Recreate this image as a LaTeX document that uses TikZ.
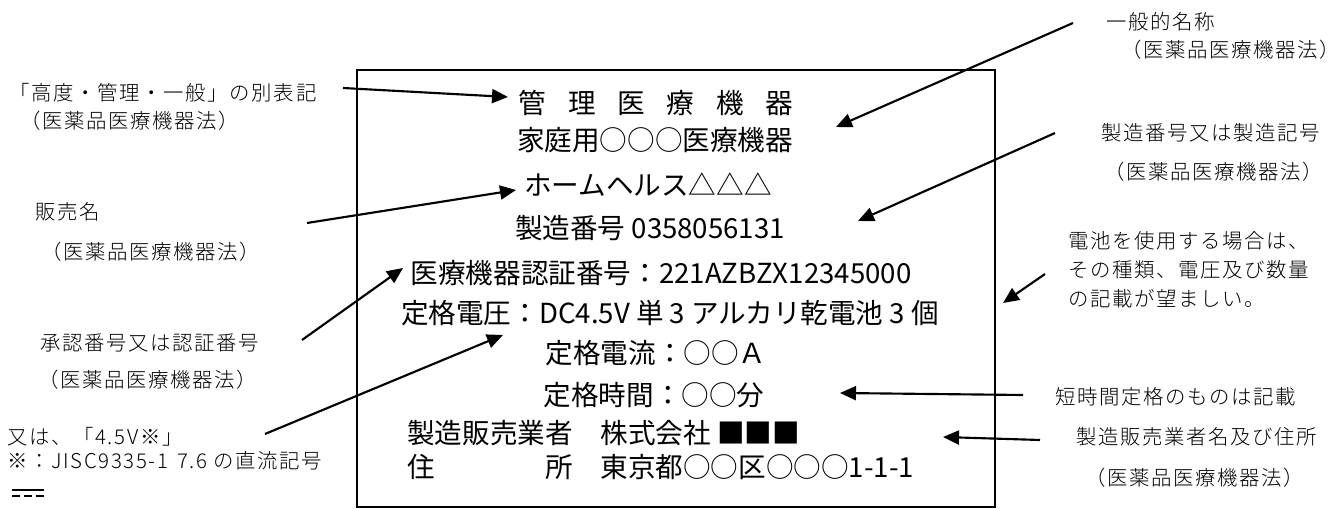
\documentclass[tikz,border=0pt]{standalone}
\usepackage{fontspec}
\setmainfont{Noto Sans CJK JP}
\newfontfamily\lblfont{Noto Sans CJK JP Light}[LetterSpace=8]
\usetikzlibrary{arrows.meta}
\newcommand\kgap{\hspace{0.79em}}
\begin{document}
\begin{tikzpicture}[x=0.75pt,y=-0.75pt,
  boxtext/.style={font={\fontsize{20.7pt}{24pt}\selectfont}, inner sep=0pt},
  lbl/.style={font={\lblfont\fontsize{15.3pt}{18pt}\selectfont}, inner sep=0pt},
  arr/.style={line width=1.6pt, -{Triangle[length=12pt,width=10.5pt]}},
  frame/.style={draw, line width=1.4pt, inner sep=0pt, outer sep=0pt,
    minimum width=478.5pt, minimum height=327.75pt}]
\useasboundingbox (0,0) rectangle (1343,509);

% label frame
\node[frame] (frame) at (676,288.5) {};

% texts inside the frame
\node[boxtext] (t1) at (656,103) {管\kgap 理\kgap 医\kgap 療\kgap 機\kgap 器};
\node[boxtext] (t2) at (655,140) {家庭用○○○医療機器};
\node[boxtext] (t3) at (648,185) {ホームヘルス△△△};
\node[boxtext] (t4) at (650,228) {製造番号 0358056131};
\node[boxtext] (t5) at (661,273) {医療機器認証番号：221AZBZX12345000};
\node[boxtext] (t6) at (670,313) {定格電圧：DC4.5V 単 3 アルカリ乾電池 3 個};
\node[boxtext] (t7) at (656,353) {定格電流：○○Ａ};
\node[boxtext] (t8) at (654,395) {定格時間：○○分};
\node[boxtext, anchor=west] (t9) at (407,433) {製造販売業者　株式会社 ■■■};
\node[boxtext, anchor=west] (t10) at (407,467) {\makebox[6em][l]{住\hfill 所}　東京都○○区○○○1-1-1};

% left labels
\node[lbl] (l1) at (163,93) {「高度・管理・一般」の別表記};
\node[lbl] (l2) at (130,121) {（医薬品医療機器法）};
\node[lbl] (l3) at (68,212) {販売名};
\node[lbl] (l4) at (151,252) {（医薬品医療機器法）};
\node[lbl] (l5) at (150,343) {承認番号又は認証番号};
\node[lbl] (l6) at (148,380) {（医薬品医療機器法）};
\node[lbl, anchor=west] (l7) at (7,437) {又は、「4.5V※」};
\node[lbl, anchor=west] (l8) at (7,461) {※：JISC9335-1\hspace{0.45em}7.6 の直流記号};

% DC symbol
\coordinate (dc1) at (12,490);
\coordinate (dc2) at (44,490);
\coordinate (dc3) at (12,496);
\coordinate (dc4) at (44,496);
\draw[line width=1pt] (dc1) -- (dc2);
\draw[line width=1pt, dash pattern=on 6pt off 3pt] (dc3) -- (dc4);

% right labels
\node[lbl] (r1) at (1161,22) {一般的名称};
\node[lbl] (r2) at (1231,50) {（医薬品医療機器法）};
\node[lbl] (r3) at (1211,133) {製造番号又は製造記号};
\node[lbl] (r4) at (1214,172) {（医薬品医療機器法）};
\node[lbl, anchor=west] (r5) at (1068,241) {電池を使用する場合は、};
\node[lbl, anchor=west] (r6) at (1068,270) {その種類、電圧及び数量};
\node[lbl, anchor=west] (r7) at (1068,299) {の記載が望ましい。};
\node[lbl] (r8) at (1176,397) {短時間定格のものは記載};
\node[lbl] (r9) at (1197,437) {製造販売業者名及び住所};
\node[lbl] (r10) at (1195,478) {（医薬品医療機器法）};

% arrow end points
\coordinate (a1s) at (343,88);   \coordinate (a1e) at (508,97);
\coordinate (a2s) at (307,223);  \coordinate (a2e) at (516,190);
\coordinate (a3s) at (302,340);  \coordinate (a3e) at (403,268);
\coordinate (a4s) at (265,434);  \coordinate (a4e) at (503,335);
\coordinate (a5s) at (1073,23);  \coordinate (a5e) at (836,127);
\coordinate (a6s) at (1055,133); \coordinate (a6e) at (858,221);
\coordinate (a7s) at (1045,274); \coordinate (a7e) at (1003,303);
\coordinate (a8s) at (1023,395); \coordinate (a8e) at (840,393);
\coordinate (a9s) at (1040,440); \coordinate (a9e) at (943,437);

\draw[arr] (a1s) -- (a1e);
\draw[arr] (a2s) -- (a2e);
\draw[arr] (a3s) -- (a3e);
\draw[arr] (a4s) -- (a4e);
\draw[arr] (a5s) -- (a5e);
\draw[arr] (a6s) -- (a6e);
\draw[arr] (a7s) -- (a7e);
\draw[arr] (a8s) -- (a8e);
\draw[arr] (a9s) -- (a9e);
\end{tikzpicture}
\end{document}
